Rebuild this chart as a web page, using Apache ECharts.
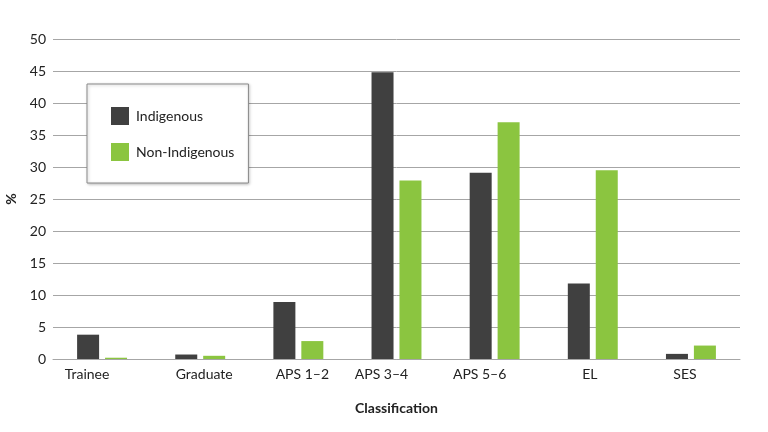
<!DOCTYPE html>
<html><head><meta charset="utf-8">
<script src="https://cdn.jsdelivr.net/npm/echarts@6/dist/echarts.min.js"></script>
<style>html,body{margin:0;padding:0;background:#fff}#c{width:768px;height:432px}</style>
</head><body><div id="c"></div>
<script>
const categories = ['Trainee', 'Graduate', 'APS 1\u20132', 'APS 3\u20134', 'APS 5\u20136', 'EL', 'SES'];
const indigenous = [3.8, 0.7, 8.9, 44.8, 29.1, 11.8, 0.8];
const nonIndigenous = [0.2, 0.5, 2.8, 27.9, 37.0, 29.5, 2.1];
const seriesNames = ['Indigenous', 'Non-Indigenous'];
const yTicks = [0, 5, 10, 15, 20, 25, 30, 35, 40, 45, 50];

const labelShift = {0: [0, 30, 0, 0], 1: [0, 0, 0, 8], 2: [0, 0, 0, 8], 3: [0, 30, 0, 0], 4: [0, 30, 0, 0], 5: [0, 6, 0, 0], 6: [0, 12, 0, 0]};
const rich = {};
Object.keys(labelShift).forEach(k => { rich['l' + k] = { padding: labelShift[k], fontFamily: 'Lato', fontSize: 14, color: '#222' }; });

const chart = echarts.init(document.getElementById('c'), null, {renderer: 'canvas'});
chart.setOption({
  animation: false,
  textStyle: {fontFamily: 'Lato'},
  grid: {left: 53, right: 28, top: 39, bottom: 73, containLabel: false, outerBoundsMode: 'none'},
  legend: {
    orient: 'vertical', left: 87, top: 84,
    data: seriesNames,
    icon: 'rect', itemWidth: 18, itemHeight: 18, itemGap: 18,
    padding: [23, 14, 22, 24],
    backgroundColor: '#fff', borderColor: '#8a8a8a', borderWidth: 1,
    shadowColor: 'rgba(0,0,0,0.25)', shadowBlur: 3, shadowOffsetX: 1, shadowOffsetY: 1,
    textStyle: {fontFamily: 'Lato', fontSize: 14, color: '#222', padding: [0, 0, 0, 2]}
  },
  xAxis: {
    type: 'category', data: categories,
    name: 'Classification', nameLocation: 'middle', nameGap: 42,
    nameTextStyle: {fontFamily: 'Lato', fontWeight: 'bold', fontSize: 14, color: '#222'},
    axisLine: {lineStyle: {color: '#a6a6a6', width: 1}},
    axisTick: {show: false},
    axisLabel: {margin: 8, formatter: (v, i) => '{l' + i + '|' + v + '}', rich: rich}
  },
  yAxis: {
    type: 'value', min: 0, max: 50, interval: 5,
    name: '%', nameLocation: 'middle', nameGap: 28, nameRotate: 90,
    nameTextStyle: {fontFamily: 'Lato', fontWeight: 'bold', fontSize: 14, color: '#222'},
    axisLine: {show: false}, axisTick: {show: false},
    axisLabel: {fontFamily: 'Lato', fontSize: 14, color: '#222', margin: 7,
      formatter: v => yTicks.includes(v) ? String(v) : ''},
    splitLine: {lineStyle: {color: '#a6a6a6', width: 1}}
  },
  series: [
    {name: seriesNames[0], type: 'bar', data: indigenous, barWidth: 22, barGap: '27%',
     itemStyle: {color: '#404040'}},
    {name: seriesNames[1], type: 'bar', data: nonIndigenous, barWidth: 22,
     itemStyle: {color: '#8bc540'}}
  ]
});
</script>
</body></html>
